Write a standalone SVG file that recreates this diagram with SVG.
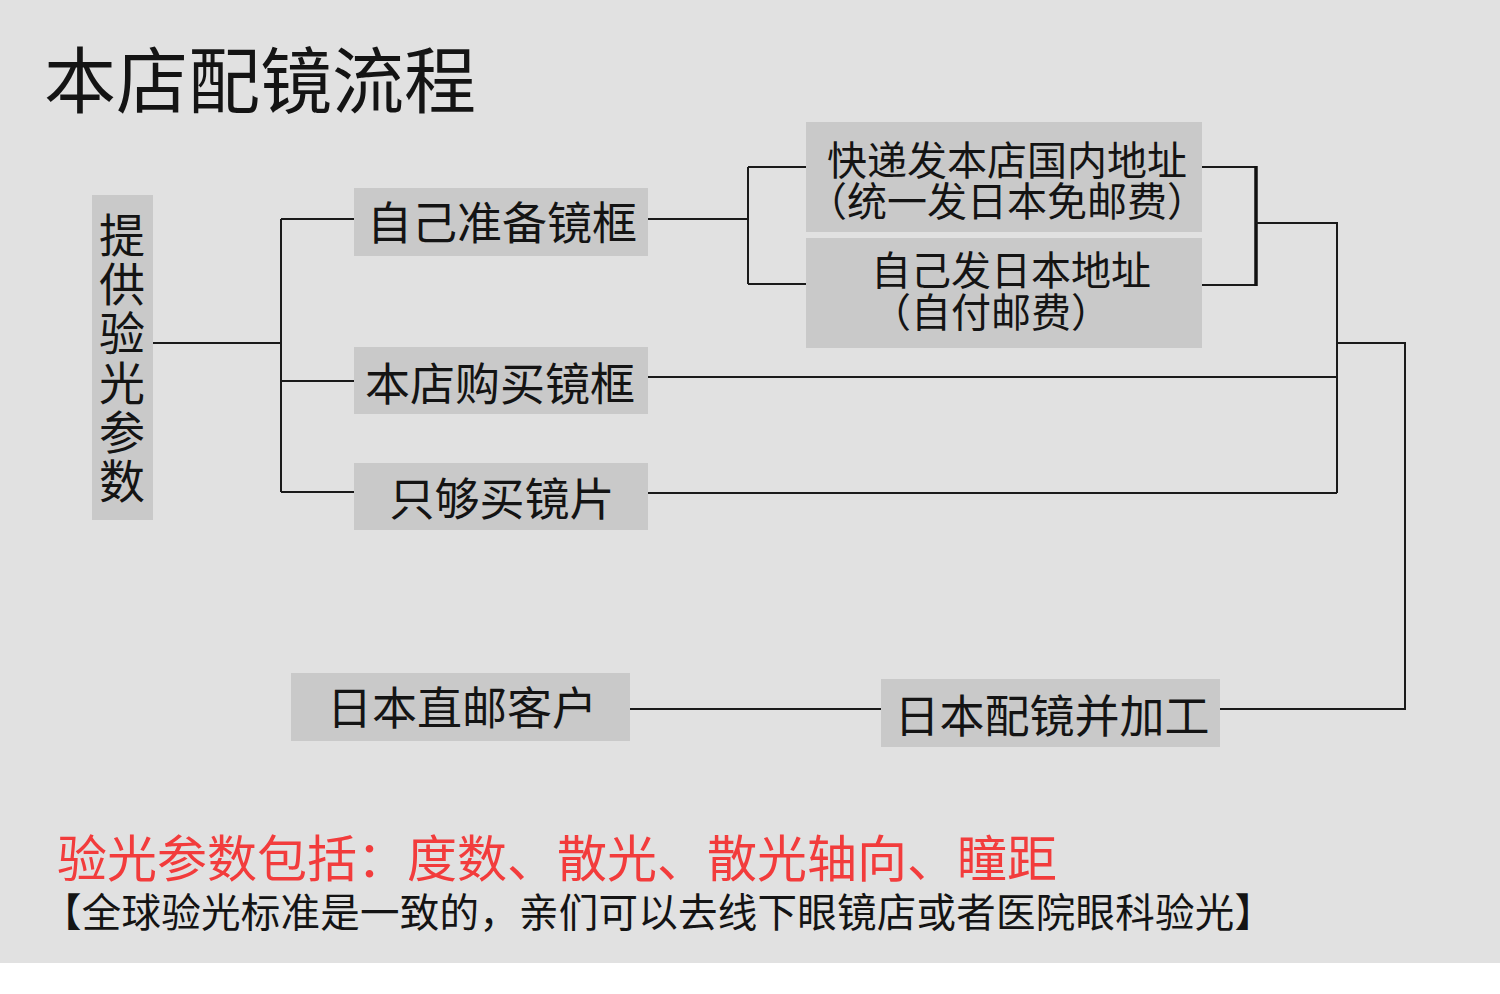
<svg xmlns="http://www.w3.org/2000/svg" width="1500" height="994" viewBox="0 0 1500 994">
<style>
text{font-family:"Noto Sans CJK SC","Noto Sans CJK JP",sans-serif;fill:#141414;dominant-baseline:central}
.box{fill:#c9c9c9}
.lbl{font-size:45px;text-anchor:middle}
.sm{font-size:40px;text-anchor:middle}
.ln{fill:none;stroke:#1a1a1a;stroke-width:2}
.thick{fill:none;stroke:#111;stroke-width:3.5}
</style>
<rect x="0" y="0" width="1500" height="994" fill="#ffffff"/>
<rect x="0" y="0" width="1500" height="963" fill="#e1e1e1"/>
<text id="title" x="44" y="75" font-size="72">本店配镜流程</text>

<g id="connectors">
<path class="ln" d="M153,343 H281 M281,219 V492 M281,219 H354 M281,381 H354 M281,492 H354"/>
<path class="ln" d="M648,219 H748 M748,167 V284 M748,167 H806 M748,284 H806"/>
<path class="ln" d="M1200,167 H1256 M1200,285 H1256"/>
<path class="thick" d="M1256,166 V286"/>
<path class="ln" d="M1256,223 H1337 V493 M648,377 H1337 M648,493 H1337"/>
<path class="ln" d="M1337,343 H1405 V709 H1220 M630,709 H881"/>
</g>

<g id="n-provide">
<rect class="box" x="92" y="195" width="61" height="325"/>
<text font-size="46" text-anchor="middle">
<tspan x="122" y="232">提</tspan><tspan x="122" y="281">供</tspan><tspan x="122" y="330">验</tspan><tspan x="122" y="380">光</tspan><tspan x="122" y="429">参</tspan><tspan x="122" y="478">数</tspan>
</text>
</g>
<g id="n-own">
<rect class="box" x="354" y="188" width="294" height="68"/>
<text class="lbl" x="502" y="220">自己准备镜框</text>
</g>
<g id="n-buy">
<rect class="box" x="354" y="347" width="294" height="67"/>
<text class="lbl" x="500" y="381">本店购买镜框</text>
</g>
<g id="n-lens">
<rect class="box" x="354" y="463" width="294" height="67"/>
<text class="lbl" x="502" y="496">只够买镜片</text>
</g>
<g id="n-express">
<rect class="box" x="806" y="122" width="396" height="110"/>
<text class="sm" x="1007" y="158">快递发本店国内地址</text>
<text class="sm" x="1007" y="199">（统一发日本免邮费）</text>
</g>
<g id="n-self">
<rect class="box" x="806" y="238" width="396" height="110"/>
<text class="sm" x="1011" y="268">自己发日本地址</text>
<text class="sm" x="991" y="310">（自付邮费）</text>
</g>
<g id="n-customer">
<rect class="box" x="291" y="673" width="339" height="68"/>
<text class="lbl" x="462" y="705">日本直邮客户</text>
</g>
<g id="n-process">
<rect class="box" x="881" y="679" width="339" height="68"/>
<text class="lbl" x="1052" y="713">日本配镜并加工</text>
</g>

<text x="57" y="855" font-size="50" style="fill:#f23c3c">验光参数包括：度数、散光、散光轴向、瞳距</text>
<text x="42" y="909" font-size="39.5" textLength="1232" lengthAdjust="spacing">【全球验光标准是一致的，亲们可以去线下眼镜店或者医院眼科验光】</text>
</svg>
